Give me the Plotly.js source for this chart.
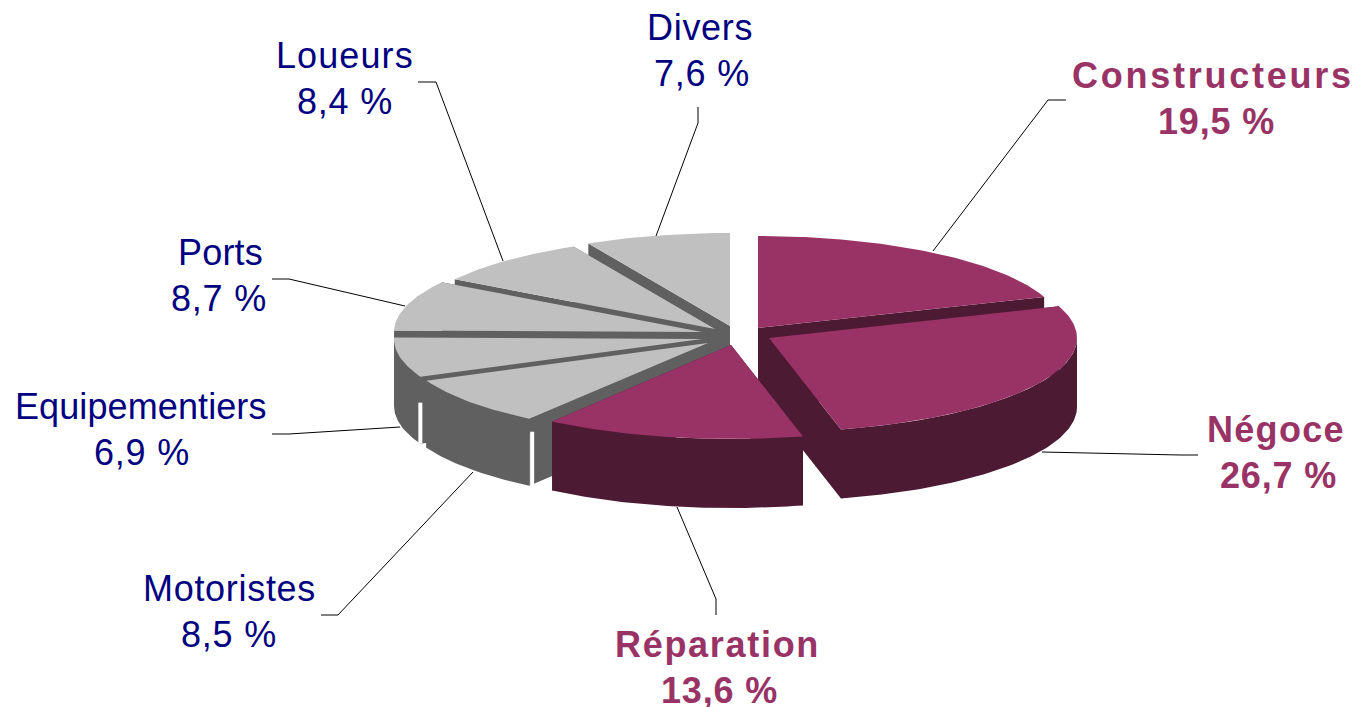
<!DOCTYPE html>
<html>
<head>
<meta charset="utf-8">
<script src="https://cdn.plot.ly/plotly-3.0.1.min.js"></script>
<style>html,body{margin:0;padding:0;background:#fff;overflow:hidden}#chart{width:1354px;height:707px}</style>
</head>
<body>
<div id="chart"></div>
<script>
// Data
const categories = ['Constructeurs','Négoce','Réparation','Motoristes','Equipementiers','Ports','Loueurs','Divers'];
const shares = [19.5,26.7,13.6,8.5,6.9,8.7,8.4,7.6];
const shareLabels = ['19,5 %','26,7 %','13,6 %','8,5 %','6,9 %','8,7 %','8,4 %','7,6 %'];

// Styling and projection of the tilted pie
const highlighted = [true,true,true,false,false,false,false,false];
const apexX = [758,769,731,708,702,702,715,730];
const apexY = [328,338,345,343,339,332,329,326];
const radiusXs = [304,308,308,308,308,308,308,308];
const radiusYs = [92,94,94,93,93,93,93,93];
const depths = [69,69,69,67,67,67,67,67];
const drawOrder = [7,6,5,4,3,0,1,2];
const nameX = [1213,1276,717,229,141,220,345,700];
const nameY = [75.5,429.5,644.5,588.5,406.5,252.5,55.5,27.5];
const numberX = [1216,1278.5,719.5,229,141.5,219,344.5,701.5];
const numberY = [121.5,475.5,690.5,634.5,452.5,298.5,101.5,73.5];
const nameSpacing = [2.75,1.3,1.7,0.7,0.1,0.2,1.1,0.7];
const numberSpacing = [0.85,0.85,0.85,0.8,0.8,0.8,0.8,0.8];
const leaderX = [[1066,1048,933],[1198,1180,1042],[716,716,677],[321,338,473],[272,289,400],[272,289,405],[418,436,503],[698,698,656]];
const leaderY = [[100,100,251],[455,455,452],[615,599,507],[615,615,472],[434,434,427],[279,279,306],[82,82,261],[107,123,236]];

const total = shares.reduce((a,b)=>a+b,0);
const startDeg = [], endDeg = [];
shares.reduce((acc,v,i)=>{startDeg[i]=acc*360/total; endDeg[i]=(acc+v)*360/total; return acc+v;},0);

function rim(i,deg,dy){
  const t = deg*Math.PI/180;
  return [apexX[i]+radiusXs[i]*Math.sin(t), apexY[i]-radiusYs[i]*Math.cos(t)+(dy||0)];
}
function arc(i,a,b,dy){
  const n = Math.max(2,Math.ceil(Math.abs(b-a)));
  const pts = [];
  for(let k=0;k<=n;k++) pts.push(rim(i,a+(b-a)*k/n,dy));
  return pts;
}
function poly(points,color){
  const closed = points.concat([points[0]]);
  return {type:'scatter',mode:'lines',x:closed.map(p=>p[0]),y:closed.map(p=>p[1]),fill:'toself',
    fillcolor:color,line:{width:0,color:color},hoverinfo:'skip',showlegend:false,cliponaxis:false};
}

const traces = [];
drawOrder.forEach(i=>{
  const top = highlighted[i] ? '#993366' : '#C0C0C0';
  const side = highlighted[i] ? '#4D1A33' : '#606060';
  const depth = depths[i];
  [startDeg[i],endDeg[i]].forEach(deg=>{
    const r = rim(i,deg);
    traces.push(poly([[apexX[i],apexY[i]],r,[r[0],r[1]+depth],[apexX[i],apexY[i]+depth]],side));
  });
  const a = Math.max(startDeg[i],90), b = Math.min(endDeg[i],270);
  if(b>a) traces.push(poly(arc(i,a,b,0).concat(arc(i,b,a,depth)),side));
  traces.push(poly([[apexX[i],apexY[i]]].concat(arc(i,startDeg[i],endDeg[i],0)),top));
});

// The two white slits visible in the grey wall
[[3,3,13,3],[4,0,26,0]].forEach(([i,dx,t,b])=>{
  const r = rim(i,startDeg[i]);
  traces.push({type:'scatter',mode:'lines',x:[r[0]+dx,r[0]+dx],y:[r[1]+t,r[1]+depths[i]+b],
    line:{color:'#FFFFFF',width:4},hoverinfo:'skip',showlegend:false});
});

categories.forEach((c,i)=>{
  traces.push({type:'scatter',mode:'lines',x:leaderX[i],y:leaderY[i],
    line:{color:'#000000',width:1},hoverinfo:'skip',showlegend:false});
});

function textNote(x,y,str,spacing,i){
  return {
    xref:'x',yref:'y',x:x,y:y,xanchor:'center',yanchor:'middle',showarrow:false,align:'center',
    text:'<span style="letter-spacing:'+spacing+'px">'+str+'</span>',
    font:{family:'"Liberation Sans",Arial,sans-serif',size:36,color:highlighted[i]?'#993366':'#000080',weight:highlighted[i]?'bold':'normal'}
  };
}
const annotations = [];
categories.forEach((c,i)=>{
  annotations.push(textNote(nameX[i],nameY[i],c,nameSpacing[i],i));
  annotations.push(textNote(numberX[i],numberY[i],shareLabels[i],numberSpacing[i],i));
});

Plotly.newPlot('chart',traces,{
  width:1354,height:707,margin:{l:0,r:0,t:0,b:0},
  paper_bgcolor:'#FFFFFF',plot_bgcolor:'#FFFFFF',showlegend:false,
  xaxis:{range:[0,1354],visible:false,fixedrange:true},
  yaxis:{range:[707,0],visible:false,fixedrange:true},
  annotations:annotations
},{displayModeBar:false,staticPlot:true});
</script>
</body>
</html>
